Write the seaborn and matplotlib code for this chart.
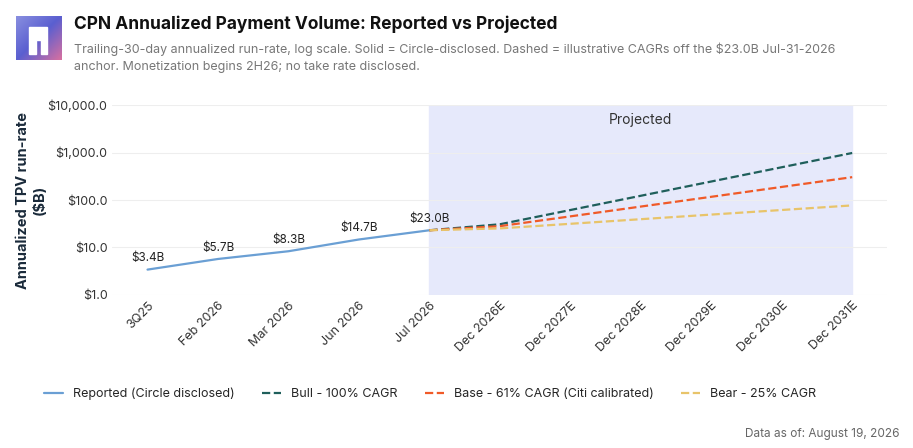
import numpy as np
import pandas as pd
import matplotlib
matplotlib.use('Agg')
import matplotlib.pyplot as plt
import seaborn as sns

categories = ['3Q25', 'Feb 2026', 'Mar 2026', 'Jun 2026', 'Jul 2026', 'Dec 2026E',
              'Dec 2027E', 'Dec 2028E', 'Dec 2029E', 'Dec 2030E', 'Dec 2031E']
reported = [3.4, 5.7, 8.3, 14.7, 23.0]
bull = [23.0, 30.8, 61.5, 123.0, 246.0, 492.0, 984.0]
base = [23.0, 28.1, 45.2, 72.8, 117.0, 189.0, 304.0]
bear = [23.0, 25.2, 31.5, 39.4, 49.3, 61.6, 77.0]
yticks = [1, 10, 100, 1000, 10000]

sns.set_theme(style='white')
plt.rcParams['font.family'] = ['Inter', 'DejaVu Sans']

fig = plt.figure(figsize=(9.13, 4.48), dpi=100)
ax = fig.add_axes([0.123, 0.342, 0.849, 0.423])

x_all = np.arange(len(categories))
ax.axvspan(4, 10, color='#e6e9fb', zorder=0)
ax.text(7, 5000, 'Projected', ha='center', va='center', fontsize=10, color='#333333')

df_rep = pd.DataFrame({'x': x_all[:5], 'y': reported})
sns.lineplot(data=df_rep, x='x', y='y', ax=ax, color='#6a9fd4', lw=1.6,
             label='Reported (Circle disclosed)')
for name, vals, col in [('Bull - 100% CAGR', bull, '#1f5f5b'),
                        ('Base - 61% CAGR (Citi calibrated)', base, '#f05a28'),
                        ('Bear - 25% CAGR', bear, '#e8c46a')]:
    d = pd.DataFrame({'x': x_all[4:], 'y': vals})
    sns.lineplot(data=d, x='x', y='y', ax=ax, color=col, lw=1.6, linestyle='--', label=name)

for i, v in enumerate(reported):
    ax.annotate(f'${v:.1f}B', (i, v), xytext=(0, 6), textcoords='offset points',
                ha='center', fontsize=8.5, color='#222222')

ax.set_yscale('log')
ax.set_ylim(1, 10000)
ax.set_yticks(yticks)
ax.set_yticklabels([f'${t:,.1f}' for t in yticks], fontsize=9)
ax.minorticks_off()
ax.set_xlim(-0.5, 10.5)
ax.set_xticks(x_all)
ax.set_xticklabels(categories, rotation=45, ha='right', rotation_mode='anchor', fontsize=9)
ax.set_xlabel('')
ax.set_ylabel('Annualized TPV run-rate\n($B)', fontsize=10.5, fontweight='bold', color='#1a2a3a',
              labelpad=2)
ax.yaxis.set_label_coords(-0.085, 0.5)
ax.grid(axis='y', color='#eeeeee', lw=0.8)
for s in ax.spines.values():
    s.set_visible(False)
ax.tick_params(axis='both', length=0, colors='#333333')

ax.legend(loc='upper center', bbox_to_anchor=(0.41, -0.43), ncol=4, frameon=False,
          fontsize=9, handlelength=1.5, columnspacing=2.2)

# logo
lax = fig.add_axes([0.017, 0.865, 0.05, 0.1])
grad = np.linspace(0, 1, 100)
lax.imshow(np.outer(np.ones(100), grad) * 0.5 + np.outer(grad, np.ones(100)) * 0.5,
           cmap=matplotlib.colors.LinearSegmentedColormap.from_list('g', ['#8a90e0', '#5a5fd0', '#d870a0']),
           extent=[0, 1, 0, 1], aspect='auto')
lax.fill([0.3, 0.3, 0.7, 0.7, 0.55, 0.55, 0.45, 0.45], [0.15, 0.75, 0.75, 0.15, 0.15, 0.45, 0.45, 0.15], color='white')
lax.axis('off')

fig.text(0.081, 0.945, 'CPN Annualized Payment Volume: Reported vs Projected',
         fontsize=12.5, fontweight='bold', color='#111111', va='center')
fig.text(0.081, 0.905, 'Trailing-30-day annualized run-rate, log scale. Solid = Circle-disclosed. '
         'Dashed = illustrative CAGRs off the $23.0B Jul-31-2026\nanchor. Monetization begins 2H26; '
         'no take rate disclosed.', fontsize=9, color='#777777', va='top', linespacing=1.5)
fig.text(0.985, 0.025, 'Data as of: August 19, 2026', fontsize=8.5, color='#666666', ha='right')

fig.savefig('out.png', dpi=100)
